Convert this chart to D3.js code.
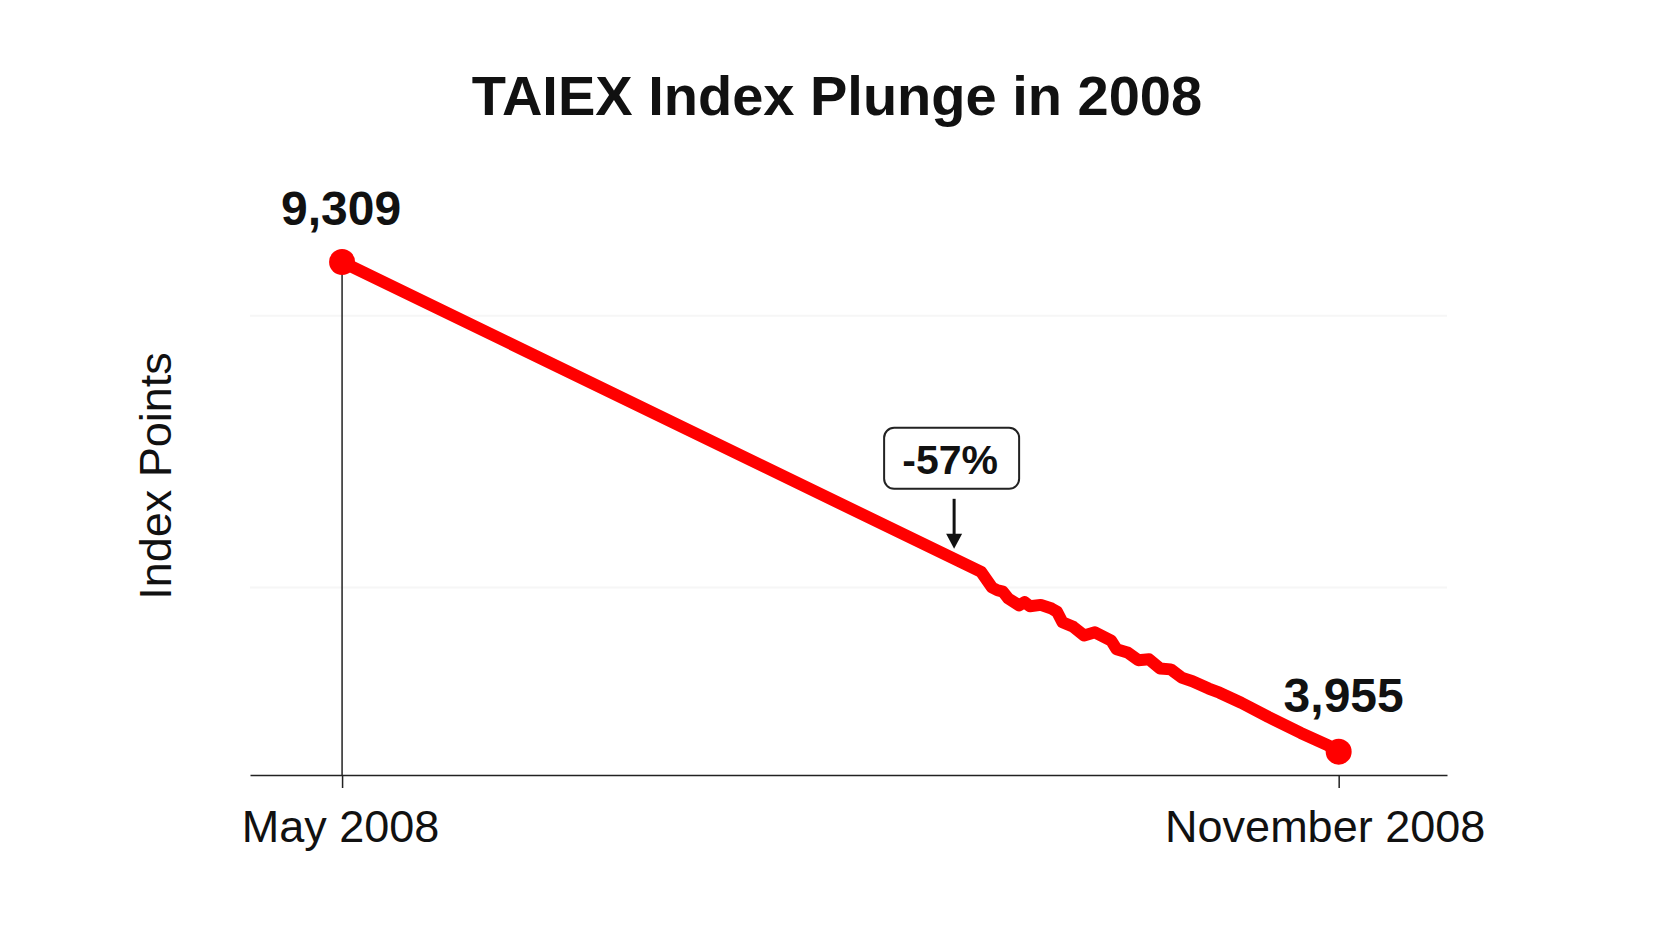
<!DOCTYPE html>
<html>
<head>
<meta charset="utf-8">
<script src="https://cdn.jsdelivr.net/npm/d3@7"></script>
<style>
body { margin: 0; background: #fff; }
svg text { font-family: "Liberation Sans", Arial, Helvetica, sans-serif; }
</style>
</head>
<body>
<script>
// TAIEX closes (straight run until mid Sep, then the crash)
var dates = ["2008-05-20", "2008-09-15", "2008-09-17", "2008-09-18", "2008-09-19", "2008-09-20",
  "2008-09-22", "2008-09-23", "2008-09-24", "2008-09-26", "2008-09-28", "2008-09-29", "2008-09-30",
  "2008-10-02", "2008-10-04", "2008-10-06", "2008-10-09", "2008-10-10", "2008-10-12",
  "2008-10-14", "2008-10-16", "2008-10-18", "2008-10-20", "2008-10-22", "2008-10-24",
  "2008-10-27", "2008-10-29", "2008-11-02", "2008-11-07", "2008-11-13", "2008-11-18",
  "2008-11-20"];
var values = [9309, 5920, 5750, 5720, 5705, 5630,
  5555, 5590, 5545, 5560, 5520, 5485, 5370,
  5320, 5225, 5260, 5170, 5075, 5040,
  4955, 4965, 4865, 4855, 4765, 4725,
  4645, 4600, 4490, 4335, 4160, 4025,
  3955];

var tickDates = ["2008-05-20", "2008-11-20"];
var tickLabels = ["May 2008", "November 2008"];
var gridValues = [5750, 8720];
var changeLabel = "-57%";
var noteDate = "2008-09-10";

var W = 1666, H = 937;
var axisY = 775;

var svg = d3.select("body").append("svg")
  .attr("width", W)
  .attr("height", H);

var parse = d3.utcParse("%Y-%m-%d");
var data = dates.map(function (d, i) {
  return { date: parse(d), value: values[i] };
});

var x = d3.scaleUtc()
  .domain([parse("2008-05-03"), parse("2008-12-10")])
  .range([250, 1447]);
var y = d3.scaleLinear()
  .domain([3700, 9309])
  .range([axisY, 262]);

// very faint grid
svg.selectAll("line.grid")
  .data(gridValues)
  .enter().append("line")
  .attr("class", "grid")
  .attr("x1", 250).attr("x2", 1447)
  .attr("y1", function (d) { return y(d); })
  .attr("y2", function (d) { return y(d); })
  .attr("stroke", "#f6f6f6")
  .attr("stroke-width", 2);

// title
svg.append("text")
  .attr("x", 837)
  .attr("y", 115)
  .attr("text-anchor", "middle")
  .attr("font-size", 56)
  .attr("font-weight", "bold")
  .attr("fill", "#111")
  .text("TAIEX Index Plunge in 2008");

// y title
svg.append("text")
  .attr("transform", "translate(171,476) rotate(-90)")
  .attr("text-anchor", "middle")
  .attr("font-size", 45)
  .attr("fill", "#111")
  .text("Index Points");

// x axis
var xAxis = d3.axisBottom(x)
  .tickValues(tickDates.map(parse))
  .tickFormat(function (d, i) { return tickLabels[i]; })
  .tickSize(13)
  .tickSizeOuter(0)
  .tickPadding(22);

var gx = svg.append("g")
  .attr("transform", "translate(0," + axisY + ")")
  .call(xAxis);
gx.select(".domain").attr("stroke", "#222").attr("stroke-width", 1.5);
gx.selectAll(".tick line").attr("stroke", "#222").attr("stroke-width", 1.5);
gx.selectAll(".tick text")
  .attr("font-size", 45)
  .attr("font-family", "'Liberation Sans', Arial, sans-serif")
  .attr("fill", "#111")
  .attr("dx", function (d, i) { return i == 1 ? -14 : -2; });

var first = data[0], last = data[data.length - 1];

// drop line under the peak
svg.append("line")
  .attr("x1", x(first.date)).attr("x2", x(first.date))
  .attr("y1", y(first.value)).attr("y2", axisY)
  .attr("stroke", "#222")
  .attr("stroke-width", 1.5);

var line = d3.line()
  .x(function (d) { return x(d.date); })
  .y(function (d) { return y(d.value); });

svg.append("path")
  .datum(data)
  .attr("d", line)
  .attr("fill", "none")
  .attr("stroke", "#ff0000")
  .attr("stroke-width", 12)
  .attr("stroke-linejoin", "round")
  .attr("stroke-linecap", "round");

svg.selectAll("circle.end")
  .data([first, last])
  .enter().append("circle")
  .attr("class", "end")
  .attr("cx", function (d) { return x(d.date); })
  .attr("cy", function (d) { return y(d.value); })
  .attr("r", 13)
  .attr("fill", "#ff0000");

var fmt = d3.format(",");
svg.append("text")
  .attr("x", x(first.date) - 1)
  .attr("y", y(first.value) - 37)
  .attr("text-anchor", "middle")
  .attr("font-size", 48)
  .attr("font-weight", "bold")
  .attr("fill", "#111")
  .text(fmt(first.value));

svg.append("text")
  .attr("x", x(last.date) + 5)
  .attr("y", y(last.value) - 40)
  .attr("text-anchor", "middle")
  .attr("font-size", 48)
  .attr("font-weight", "bold")
  .attr("fill", "#111")
  .text(fmt(last.value));

// annotation pointing at the line
var nd = parse(noteDate);
var bis = d3.bisector(function (d) { return d.date; }).left;
var j = bis(data, nd);
var a = data[j - 1], b = data[j];
var t = (nd - a.date) / (b.date - a.date);
var nx = x(nd);
var tipY = y(a.value + (b.value - a.value) * t) - 10;

var note = svg.append("g");
note.append("line")
  .attr("x1", nx).attr("x2", nx)
  .attr("y1", tipY - 50).attr("y2", tipY - 12)
  .attr("stroke", "#111")
  .attr("stroke-width", 3);
note.append("path")
  .attr("d", "M" + (nx - 8) + "," + (tipY - 15) + "L" + (nx + 8) + "," + (tipY - 15) + "L" + nx + "," + tipY + "Z")
  .attr("fill", "#111");
note.append("rect")
  .attr("x", nx - 70)
  .attr("y", tipY - 121)
  .attr("width", 135)
  .attr("height", 61)
  .attr("rx", 10)
  .attr("fill", "#fff")
  .attr("stroke", "#222")
  .attr("stroke-width", 2);
note.append("text")
  .attr("x", nx - 4)
  .attr("y", tipY - 75)
  .attr("text-anchor", "middle")
  .attr("font-size", 41)
  .attr("font-weight", "bold")
  .attr("fill", "#111")
  .text(changeLabel);
</script>
</body>
</html>
